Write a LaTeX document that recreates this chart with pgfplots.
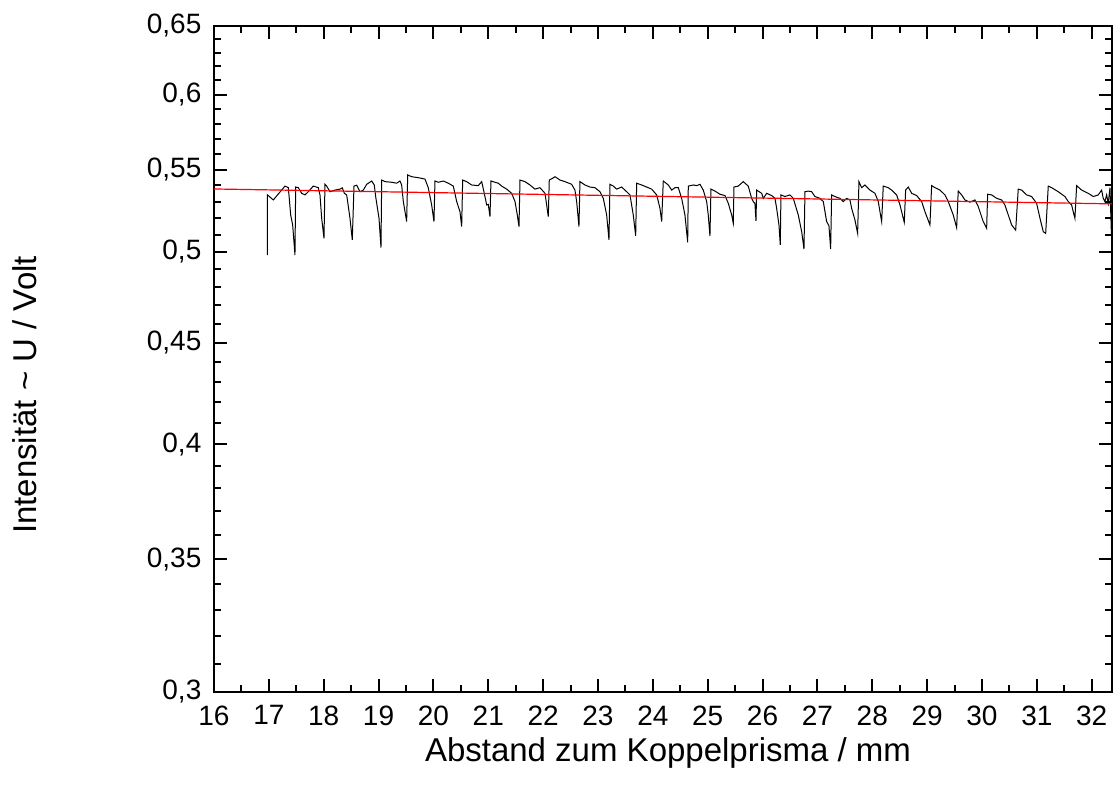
\documentclass[border=0pt]{standalone}
\usepackage{pgfplots}
\pgfplotsset{compat=1.18}
\usepackage{fontspec}
\setmainfont{Liberation Sans}

% Messkurve (Intensitaet ueber Abstand)
\pgfplotstableread{
x y
16.972 0.4980
16.972 0.5342
17.081 0.5310
17.294 0.5396
17.355 0.5386
17.398 0.5218
17.434 0.5158
17.476 0.4981
17.489 0.5390
17.537 0.5386
17.598 0.5351
17.659 0.5341
17.719 0.5361
17.810 0.5396
17.901 0.5386
17.932 0.5341
17.963 0.5198
18.005 0.5079
18.023 0.5407
18.054 0.5396
18.114 0.5361
18.206 0.5371
18.297 0.5377
18.339 0.5385
18.376 0.5351
18.419 0.5341
18.479 0.5198
18.521 0.5069
18.552 0.5396
18.601 0.5402
18.661 0.5361
18.722 0.5371
18.783 0.5407
18.875 0.5428
18.922 0.5403
18.947 0.5331
19.008 0.5198
19.044 0.5024
19.057 0.5434
19.117 0.5424
19.239 0.5420
19.330 0.5414
19.390 0.5428
19.421 0.5403
19.451 0.5300
19.512 0.5178
19.531 0.5466
19.603 0.5455
19.724 0.5449
19.846 0.5440
19.906 0.5386
19.968 0.5279
20.010 0.5178
20.028 0.5428
20.089 0.5420
20.180 0.5428
20.271 0.5414
20.362 0.5396
20.424 0.5300
20.484 0.5238
20.515 0.5148
20.533 0.5434
20.606 0.5424
20.697 0.5403
20.818 0.5399
20.880 0.5424
20.927 0.5351
20.971 0.5279
21.000 0.5283
21.031 0.5208
21.049 0.5428
21.122 0.5420
21.182 0.5414
21.244 0.5396
21.335 0.5377
21.426 0.5351
21.487 0.5300
21.529 0.5218
21.560 0.5148
21.578 0.5434
21.669 0.5424
21.760 0.5403
21.851 0.5377
21.942 0.5386
22.034 0.5351
22.064 0.5279
22.094 0.5208
22.112 0.5434
22.167 0.5444
22.216 0.5455
22.307 0.5434
22.398 0.5424
22.520 0.5407
22.580 0.5371
22.611 0.5300
22.653 0.5148
22.671 0.5424
22.763 0.5403
22.854 0.5390
22.945 0.5386
23.036 0.5361
23.097 0.5320
23.158 0.5218
23.200 0.5069
23.218 0.5407
23.279 0.5396
23.340 0.5377
23.431 0.5390
23.523 0.5361
23.583 0.5341
23.643 0.5218
23.687 0.5094
23.705 0.5414
23.796 0.5403
23.887 0.5390
23.978 0.5377
24.070 0.5341
24.130 0.5258
24.161 0.5178
24.190 0.5428
24.281 0.5403
24.343 0.5371
24.403 0.5386
24.464 0.5386
24.525 0.5320
24.585 0.5218
24.635 0.5055
24.646 0.5396
24.737 0.5403
24.799 0.5399
24.859 0.5407
24.919 0.5371
24.981 0.5300
25.010 0.5218
25.041 0.5092
25.059 0.5377
25.132 0.5365
25.223 0.5345
25.315 0.5337
25.375 0.5289
25.437 0.5218
25.466 0.5168
25.479 0.5390
25.557 0.5396
25.648 0.5424
25.739 0.5396
25.801 0.5320
25.830 0.5300
25.861 0.5289
25.880 0.5182
25.892 0.5371
25.984 0.5351
26.013 0.5320
26.075 0.5351
26.166 0.5337
26.226 0.5320
26.257 0.5258
26.299 0.5158
26.323 0.5040
26.335 0.5341
26.408 0.5331
26.499 0.5341
26.560 0.5320
26.651 0.5218
26.713 0.5118
26.755 0.5016
26.773 0.5361
26.833 0.5365
26.895 0.5361
26.955 0.5331
27.046 0.5320
27.107 0.5300
27.168 0.5178
27.210 0.5154
27.241 0.5016
27.259 0.5341
27.320 0.5331
27.411 0.5320
27.471 0.5300
27.533 0.5320
27.593 0.5310
27.624 0.5258
27.684 0.5188
27.733 0.5108
27.757 0.5424
27.806 0.5386
27.866 0.5403
27.958 0.5371
28.049 0.5351
28.109 0.5300
28.140 0.5238
28.171 0.5178
28.200 0.5396
28.291 0.5386
28.353 0.5371
28.444 0.5341
28.505 0.5279
28.535 0.5238
28.583 0.5174
28.608 0.5371
28.656 0.5390
28.718 0.5351
28.809 0.5337
28.900 0.5300
28.960 0.5238
29.051 0.5158
29.082 0.5399
29.143 0.5386
29.234 0.5371
29.325 0.5341
29.385 0.5300
29.476 0.5218
29.538 0.5142
29.567 0.5365
29.629 0.5341
29.689 0.5310
29.780 0.5296
29.871 0.5310
29.932 0.5269
30.023 0.5178
30.085 0.5138
30.103 0.5345
30.176 0.5341
30.267 0.5320
30.358 0.5310
30.418 0.5279
30.479 0.5218
30.541 0.5158
30.614 0.5127
30.661 0.5377
30.723 0.5371
30.814 0.5341
30.905 0.5331
30.996 0.5289
31.057 0.5198
31.117 0.5118
31.161 0.5108
31.208 0.5396
31.270 0.5386
31.390 0.5361
31.512 0.5331
31.572 0.5300
31.634 0.5279
31.663 0.5238
31.694 0.5198
31.725 0.5399
31.816 0.5371
31.937 0.5351
32.028 0.5331
32.119 0.5341
32.181 0.5371
32.210 0.5320
32.241 0.5300
32.272 0.5341
32.302 0.5289
32.333 0.5386
32.360 0.5095
}\messung

\begin{document}
\begin{tikzpicture}
\begin{axis}[
  scale only axis,
  width=449pt, height=333.15pt,
  xmin=16, xmax=32.37,
  ymode=log, ymin=0.3, ymax=0.65,
  xtick={16,17,...,32},
  minor xtick={16.5,17.5,...,31.5,32},
  ytick={0.3,0.35,0.4,0.45,0.5,0.55,0.6,0.65},
  yticklabels={{0,3},{0,35},{0,4},{0,45},{0,5},{0,55},{0,6},{0,65}},
  minor ytick={0.31,0.32,0.33,0.34,0.36,0.37,0.38,0.39,0.41,0.42,0.43,0.44,
    0.46,0.47,0.48,0.49,0.51,0.52,0.53,0.54,0.56,0.57,0.58,0.59,0.61,0.62,0.63,0.64},
  /pgf/number format/assume math mode=true,
  tick align=inside,
  major tick length=6.5pt,
  minor tick length=3.5pt,
  every tick/.style={black, line width=1pt},
  axis line style={line width=1pt},
  ticklabel style={font=\fontsize{14}{16}\selectfont},
  xticklabel style={yshift=-3.3pt},
  yticklabel style={xshift=-2.8pt},
  label style={font=\fontsize{16.5}{19}\selectfont},
  xlabel={Abstand zum Koppelprisma / mm},
  ylabel={Intensität \textasciitilde{} U / Volt},
  xlabel style={at={(axis description cs:0.5056,-0.105)}, anchor=base},
  ylabel style={at={(axis description cs:-0.1975,0.4457)}, anchor=base},
  clip mode=individual,
]
\coordinate (sw) at (rel axis cs:0,0);
\addplot[black, line width=0.5pt] table[x=x, y=y] {\messung};
\addplot[red, line width=0.6pt] coordinates {(16,0.5378) (32.37,0.5286)};
\end{axis}
\pgfresetboundingbox
\path (sw) ++(-107pt,-46.5pt) rectangle ++(556.5pt,392.5pt);
\end{tikzpicture}
\end{document}
